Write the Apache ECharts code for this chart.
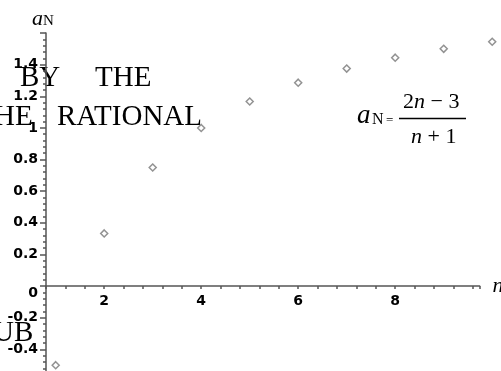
<!DOCTYPE html>
<html lang="en">
<head>
    <meta charset="UTF-8">
    <title>a_N = (2n-3)/(n+1)</title>
    <script src="https://cdn.jsdelivr.net/npm/echarts@6/dist/echarts.min.js"></script>
    <style>
        html, body { margin: 0; padding: 0; background: #fff; }
        #chart { width: 501px; height: 371px; }
    </style>
</head>
<body>
    <div id="chart"></div>
    <script>
        // sequence values a_n for n = 1..10
        var nValues = [1, 2, 3, 4, 5, 6, 7, 8, 9, 10];
        var aValues = [-0.5, 0.333, 0.75, 1.0, 1.167, 1.286, 1.375, 1.444, 1.5, 1.545];

        var xTickLabels = [2, 4, 6, 8];
        var yTickLabels = [-0.4, -0.2, 0, 0.2, 0.4, 0.6, 0.8, 1, 1.2, 1.4];

        var axisColor = '#555';
        var serif = '"Liberation Serif", "Times New Roman", serif';

        var yMin = -0.6, yMax = 1.6;
        var gridTop = 33, gridHeight = 348;
        // move the x axis up from the grid bottom to y = 0
        var xAxisOffset = -gridHeight * (0 - yMin) / (yMax - yMin);

        function hasTick(list, v) {
            for (var i = 0; i < list.length; i++) {
                if (Math.abs(list[i] - v) < 1e-6) return true;
            }
            return false;
        }

        var chart = echarts.init(document.getElementById('chart'));

        chart.setOption({
            animation: false,
            grid: {
                left: 46, top: gridTop, width: 433.6, height: gridHeight,
                containLabel: false,
                outerBoundsMode: 'none'
            },
            xAxis: {
                type: 'value',
                position: 'bottom',
                offset: xAxisOffset,
                min: 0.8,
                max: 9.74,
                interval: 0.4,
                name: 'n',
                nameLocation: 'end',
                nameGap: 13,
                nameTextStyle: { fontFamily: serif, fontStyle: 'italic', fontSize: 22, color: '#000' },
                axisLine: { onZero: false, lineStyle: { color: axisColor, width: 1.5 } },
                axisTick: { show: true, length: 3, lineStyle: { color: axisColor, width: 1.5 } },
                splitLine: { show: false },
                axisLabel: {
                    margin: 8,
                    color: '#000',
                    fontFamily: '"DejaVu Sans"',
                    fontWeight: 'bold',
                    fontSize: 14,
                    formatter: function (v) {
                        return hasTick(xTickLabels, v) ? String(Math.round(v)) : '';
                    }
                }
            },
            yAxis: {
                type: 'value',
                min: yMin,
                max: yMax,
                interval: 0.2,
                axisLine: { onZero: false, lineStyle: { color: axisColor, width: 1.5 } },
                axisTick: { show: true, length: 6, lineStyle: { color: axisColor, width: 1.5 } },
                minorTick: { show: true, splitNumber: 5, length: 3, lineStyle: { color: axisColor, width: 1.5 } },
                splitLine: { show: false },
                minorSplitLine: { show: false },
                axisLabel: {
                    margin: 8,
                    color: '#000',
                    fontFamily: '"DejaVu Sans"',
                    fontWeight: 'bold',
                    fontSize: 14,
                    formatter: function (v) {
                        if (!hasTick(yTickLabels, v)) return '';
                        var s = String(Math.round(v * 10) / 10);
                        return s === '0' ? '{z|0}' : s;
                    },
                    rich: {
                        z: { padding: [14, 0, 0, 0], fontFamily: '"DejaVu Sans"', fontWeight: 'bold', fontSize: 14, color: '#000' }
                    }
                }
            },
            series: [{
                type: 'scatter',
                clip: false,
                symbol: 'diamond',
                symbolSize: 7,
                itemStyle: { color: '#fff', borderColor: '#777', borderWidth: 1.5 },
                data: nValues.map(function (n, i) { return [n, aValues[i]]; })
            }],
            graphic: [
                // y axis title a_N
                { type: 'text', left: 32, top: 8, style: { text: 'a', font: 'italic 22px ' + serif, fill: '#000' } },
                { type: 'text', left: 43, top: 14, style: { text: 'N', font: '15px ' + serif, fill: '#000' } },

                // formula a_N = (2n-3)/(n+1)
                { type: 'text', left: 357, top: 102, style: { text: 'a', font: 'italic 27px ' + serif, fill: '#000' } },
                { type: 'text', left: 372, top: 112, style: { text: 'N', font: '16px ' + serif, fill: '#000' } },
                { type: 'text', left: 386, top: 114, style: { text: '=', font: '13px ' + serif, fill: '#000' } },
                {
                    type: 'text', left: 403, top: 91,
                    style: {
                        text: '{r|2}{i|n}{r| \u2212 3}',
                        rich: {
                            r: { fontFamily: serif, fontSize: 22, fill: '#000', color: '#000' },
                            i: { fontFamily: serif, fontSize: 22, fontStyle: 'italic', fill: '#000', color: '#000' }
                        }
                    }
                },
                { type: 'line', shape: { x1: 399, y1: 118.5, x2: 466, y2: 118.5 }, style: { stroke: '#000', lineWidth: 1.3 } },
                {
                    type: 'text', left: 411, top: 126,
                    style: {
                        text: '{i|n}{r| + 1}',
                        rich: {
                            r: { fontFamily: serif, fontSize: 22, fill: '#000', color: '#000' },
                            i: { fontFamily: serif, fontSize: 22, fontStyle: 'italic', fill: '#000', color: '#000' }
                        }
                    }
                },

                // stray overlay text
                { type: 'text', left: 20, top: 64, style: { text: 'BY', font: '29px ' + serif, fill: '#000' } },
                { type: 'text', left: 95, top: 64, style: { text: 'THE', font: '29px ' + serif, fill: '#000' } },
                { type: 'text', left: -6, top: 103, style: { text: 'HE', font: '29px ' + serif, fill: '#000' } },
                { type: 'text', left: 57, top: 103, style: { text: 'RATIONAL', font: '29px ' + serif, fill: '#000' } },
                { type: 'text', left: -7, top: 319, style: { text: 'UB', font: '29px ' + serif, fill: '#000' } }
            ]
        });
    </script>
</body>
</html>
